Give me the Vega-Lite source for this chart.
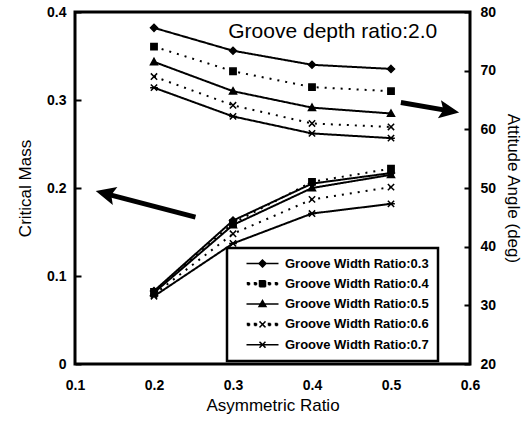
{
  "$schema": "https://vega.github.io/schema/vega-lite/v6.json",
  "width": 395,
  "height": 352,
  "autosize": {"type": "none"},
  "padding": {"left": 75, "top": 12, "right": 57, "bottom": 62},
  "background": "white",
  "config": {
    "view": {"stroke": "black", "strokeWidth": 3},
    "font": "Liberation Sans",
    "axis": {
      "labelFont": "Liberation Sans", "labelFontWeight": "bold", "labelFontSize": 14, "labelColor": "black",
      "titleFont": "Liberation Sans", "titleFontWeight": "normal", "titleFontSize": 17, "titleColor": "black",
      "grid": false, "domain": false, "tickColor": "black", "tickWidth": 2
    },
    "legend": {
      "title": null, "orient": "none", "legendX": 152, "legendY": 236,
      "symbolSize": 100, "padding": 9, "rowPadding": 6.3,
      "symbolOffset": 20, "labelOffset": 16,
      "labelFont": "Liberation Sans", "labelFontWeight": "bold", "labelFontSize": 13, "labelColor": "black",
      "labelExpr": "datum.label + ' '",
      "strokeColor": "black", "fillColor": "white"
    }
  },
  "datasets": {
    "mass": [
      {"series": "Groove Width Ratio:0.3", "ar": 0.2, "mass": 0.083},
      {"series": "Groove Width Ratio:0.3", "ar": 0.3, "mass": 0.163},
      {"series": "Groove Width Ratio:0.3", "ar": 0.4, "mass": 0.205},
      {"series": "Groove Width Ratio:0.3", "ar": 0.5, "mass": 0.217},
      {"series": "Groove Width Ratio:0.4", "ar": 0.2, "mass": 0.082},
      {"series": "Groove Width Ratio:0.4", "ar": 0.3, "mass": 0.160},
      {"series": "Groove Width Ratio:0.4", "ar": 0.4, "mass": 0.207},
      {"series": "Groove Width Ratio:0.4", "ar": 0.5, "mass": 0.222},
      {"series": "Groove Width Ratio:0.5", "ar": 0.2, "mass": 0.081},
      {"series": "Groove Width Ratio:0.5", "ar": 0.3, "mass": 0.158},
      {"series": "Groove Width Ratio:0.5", "ar": 0.4, "mass": 0.200},
      {"series": "Groove Width Ratio:0.5", "ar": 0.5, "mass": 0.215},
      {"series": "Groove Width Ratio:0.6", "ar": 0.2, "mass": 0.079},
      {"series": "Groove Width Ratio:0.6", "ar": 0.3, "mass": 0.148},
      {"series": "Groove Width Ratio:0.6", "ar": 0.4, "mass": 0.187},
      {"series": "Groove Width Ratio:0.6", "ar": 0.5, "mass": 0.201},
      {"series": "Groove Width Ratio:0.7", "ar": 0.2, "mass": 0.077},
      {"series": "Groove Width Ratio:0.7", "ar": 0.3, "mass": 0.137},
      {"series": "Groove Width Ratio:0.7", "ar": 0.4, "mass": 0.171},
      {"series": "Groove Width Ratio:0.7", "ar": 0.5, "mass": 0.182}
    ],
    "angle": [
      {"series": "Groove Width Ratio:0.3", "ar": 0.2, "angle": 77.3},
      {"series": "Groove Width Ratio:0.3", "ar": 0.3, "angle": 73.4},
      {"series": "Groove Width Ratio:0.3", "ar": 0.4, "angle": 71.0},
      {"series": "Groove Width Ratio:0.3", "ar": 0.5, "angle": 70.3},
      {"series": "Groove Width Ratio:0.4", "ar": 0.2, "angle": 74.1},
      {"series": "Groove Width Ratio:0.4", "ar": 0.3, "angle": 69.9},
      {"series": "Groove Width Ratio:0.4", "ar": 0.4, "angle": 67.2},
      {"series": "Groove Width Ratio:0.4", "ar": 0.5, "angle": 66.5},
      {"series": "Groove Width Ratio:0.5", "ar": 0.2, "angle": 71.5},
      {"series": "Groove Width Ratio:0.5", "ar": 0.3, "angle": 66.5},
      {"series": "Groove Width Ratio:0.5", "ar": 0.4, "angle": 63.7},
      {"series": "Groove Width Ratio:0.5", "ar": 0.5, "angle": 62.7},
      {"series": "Groove Width Ratio:0.6", "ar": 0.2, "angle": 69.0},
      {"series": "Groove Width Ratio:0.6", "ar": 0.3, "angle": 64.1},
      {"series": "Groove Width Ratio:0.6", "ar": 0.4, "angle": 61.0},
      {"series": "Groove Width Ratio:0.6", "ar": 0.5, "angle": 60.4},
      {"series": "Groove Width Ratio:0.7", "ar": 0.2, "angle": 67.1},
      {"series": "Groove Width Ratio:0.7", "ar": 0.3, "angle": 62.2},
      {"series": "Groove Width Ratio:0.7", "ar": 0.4, "angle": 59.3},
      {"series": "Groove Width Ratio:0.7", "ar": 0.5, "angle": 58.5}
    ]
  },
  "layer": [
    {
      "layer": [
        {
          "data": {"name": "mass"},
          "mark": {"type": "line", "strokeWidth": 2},
          "encoding": {
            "x": {"field": "ar", "type": "quantitative", "scale": {"domain": [0.1, 0.6], "nice": false},
                  "axis": {"title": "Asymmetric Ratio", "values": [0.1, 0.2, 0.3, 0.4, 0.5, 0.6], "format": ".1f", "ticks": false, "labelPadding": 14, "titlePadding": 5, "labelFlush": false}},
            "y": {"field": "mass", "type": "quantitative", "scale": {"domain": [0, 0.4], "nice": false},
                  "axis": {"title": "Critical Mass", "values": [0, 0.1, 0.2, 0.3, 0.4], "format": ".1~f", "tickSize": -6, "labelPadding": 15, "titlePadding": 12, "labelFlush": false}},
            "color": {"field": "series", "type": "nominal",
                      "scale": {"range": ["black", "black", "black", "black", "black"]},
                      "legend": {
                        "encode": {
                          "legend": {"update": {"strokeWidth": {"value": 2.5}}},
                          "symbols": {"update": {
                            "shape": {"signal": "slice(datum.value, -1) === '3' ? 'M-3.2,0L3.2,0M0,-0.7L0.7,0L0,0.7L-0.7,0Z' : slice(datum.value, -1) === '4' ? 'M-3,-0.2h0.4v0.4h-0.4ZM-1.6,-0.2h0.4v0.4h-0.4ZM-0.6,-0.6h1.2v1.2h-1.2ZM1.2,-0.2h0.4v0.4h-0.4ZM2.6,-0.2h0.4v0.4h-0.4Z' : slice(datum.value, -1) === '5' ? 'M-3.2,0L3.2,0M0,-0.7L0.7,0.5L-0.7,0.5Z' : slice(datum.value, -1) === '6' ? 'M-3,-0.2h0.4v0.4h-0.4ZM-1.6,-0.2h0.4v0.4h-0.4ZM-0.6,-0.6L0.6,0.6M-0.6,0.6L0.6,-0.6M1.2,-0.2h0.4v0.4h-0.4ZM2.6,-0.2h0.4v0.4h-0.4Z' : 'M-3.2,0L3.2,0M-0.6,-0.6L0.6,0.6M-0.6,0.6L0.6,-0.6'"},
                            "fill": {"value": "black"}, "stroke": {"value": "black"}, "strokeWidth": {"value": 1.5}, "opacity": {"value": 1}, "strokeDash": {"value": [1, 0]}
                          }}
                        }
                      }},
            "strokeDash": {"field": "series", "type": "nominal",
                           "scale": {"domain": ["Groove Width Ratio:0.3", "Groove Width Ratio:0.4", "Groove Width Ratio:0.5", "Groove Width Ratio:0.6", "Groove Width Ratio:0.7"],
                                     "range": [[1, 0], [2, 6], [1, 0], [2, 6], [1, 0]]},
                           "legend": null}
          }
        },
        {
          "data": {"name": "mass"},
          "mark": {"type": "point", "filled": true, "color": "black", "stroke": "black", "strokeWidth": 1.5, "opacity": 1, "size": 49},
          "encoding": {
            "x": {"field": "ar", "type": "quantitative"},
            "y": {"field": "mass", "type": "quantitative"},
            "shape": {"field": "series", "type": "nominal",
                      "scale": {"domain": ["Groove Width Ratio:0.3", "Groove Width Ratio:0.4", "Groove Width Ratio:0.5", "Groove Width Ratio:0.6", "Groove Width Ratio:0.7"],
                                "range": ["M0,-1L1,0L0,1L-1,0Z", "M-0.9,-0.9H0.9V0.9H-0.9Z", "M0,-1L1,0.8H-1Z", "M-0.9,-0.9L0.9,0.9M-0.9,0.9L0.9,-0.9", "M-0.9,-0.9L0.9,0.9M-0.9,0.9L0.9,-0.9M-1.1,0L1.1,0"]},
                      "legend": null}
          }
        },
        {
          "data": {"values": [{"x1": 0.2525, "y1": 0.1669, "x2": 0.1384, "y2": 0.1937}]},
          "mark": {"type": "rule", "color": "black", "strokeWidth": 5},
          "encoding": {
            "x": {"field": "x1", "type": "quantitative"}, "y": {"field": "y1", "type": "quantitative"},
            "x2": {"field": "x2"}, "y2": {"field": "y2"}
          }
        },
        {
          "data": {"values": [{"x": 0.12625, "y": 0.1966}]},
          "mark": {"type": "point", "filled": true, "color": "black", "opacity": 1, "size": 256, "shape": "M0,0L2.5,-1.15L2,0L2.5,1.15Z", "angle": 14.4},
          "encoding": {"x": {"field": "x", "type": "quantitative"}, "y": {"field": "y", "type": "quantitative"}}
        },
        {
          "data": {"values": [{"x": 0.294, "y": 0.370, "t": "Groove depth ratio:2.0"}]},
          "mark": {"type": "text", "font": "Liberation Sans", "fontSize": 21, "color": "black", "align": "left", "baseline": "alphabetic"},
          "encoding": {"x": {"field": "x", "type": "quantitative"}, "y": {"field": "y", "type": "quantitative"}, "text": {"field": "t"}}
        }
      ]
    },
    {
      "layer": [
        {
          "data": {"name": "angle"},
          "mark": {"type": "line", "color": "black", "strokeWidth": 2},
          "encoding": {
            "x": {"field": "ar", "type": "quantitative"},
            "y": {"field": "angle", "type": "quantitative", "scale": {"domain": [20, 80], "nice": false},
                  "axis": {"orient": "right", "title": "Attitude Angle (deg)", "values": [20, 30, 40, 50, 60, 70, 80], "format": "d", "tickSize": -6, "labelPadding": 16, "titlePadding": 8, "labelFlush": false}},
            "detail": {"field": "series"},
            "strokeDash": {"field": "series", "type": "nominal", "legend": null}
          }
        },
        {
          "data": {"name": "angle"},
          "mark": {"type": "point", "filled": true, "color": "black", "stroke": "black", "strokeWidth": 1.5, "opacity": 1, "size": 49},
          "encoding": {
            "x": {"field": "ar", "type": "quantitative"},
            "y": {"field": "angle", "type": "quantitative"},
            "shape": {"field": "series", "type": "nominal", "legend": null}
          }
        },
        {
          "data": {"values": [{"x1": 0.5125, "y1": 64.57, "x2": 0.5739, "y2": 63.15}]},
          "mark": {"type": "rule", "color": "black", "strokeWidth": 5},
          "encoding": {
            "x": {"field": "x1", "type": "quantitative"}, "y": {"field": "y1", "type": "quantitative"},
            "x2": {"field": "x2"}, "y2": {"field": "y2"}
          }
        },
        {
          "data": {"values": [{"x": 0.58625, "y": 62.86}]},
          "mark": {"type": "point", "filled": true, "color": "black", "opacity": 1, "size": 256, "shape": "M0,0L2.5,-1.15L2,0L2.5,1.15Z", "angle": 189.6},
          "encoding": {"x": {"field": "x", "type": "quantitative"}, "y": {"field": "y", "type": "quantitative"}}
        }
      ]
    }
  ],
  "resolve": {"scale": {"y": "independent"}}
}
